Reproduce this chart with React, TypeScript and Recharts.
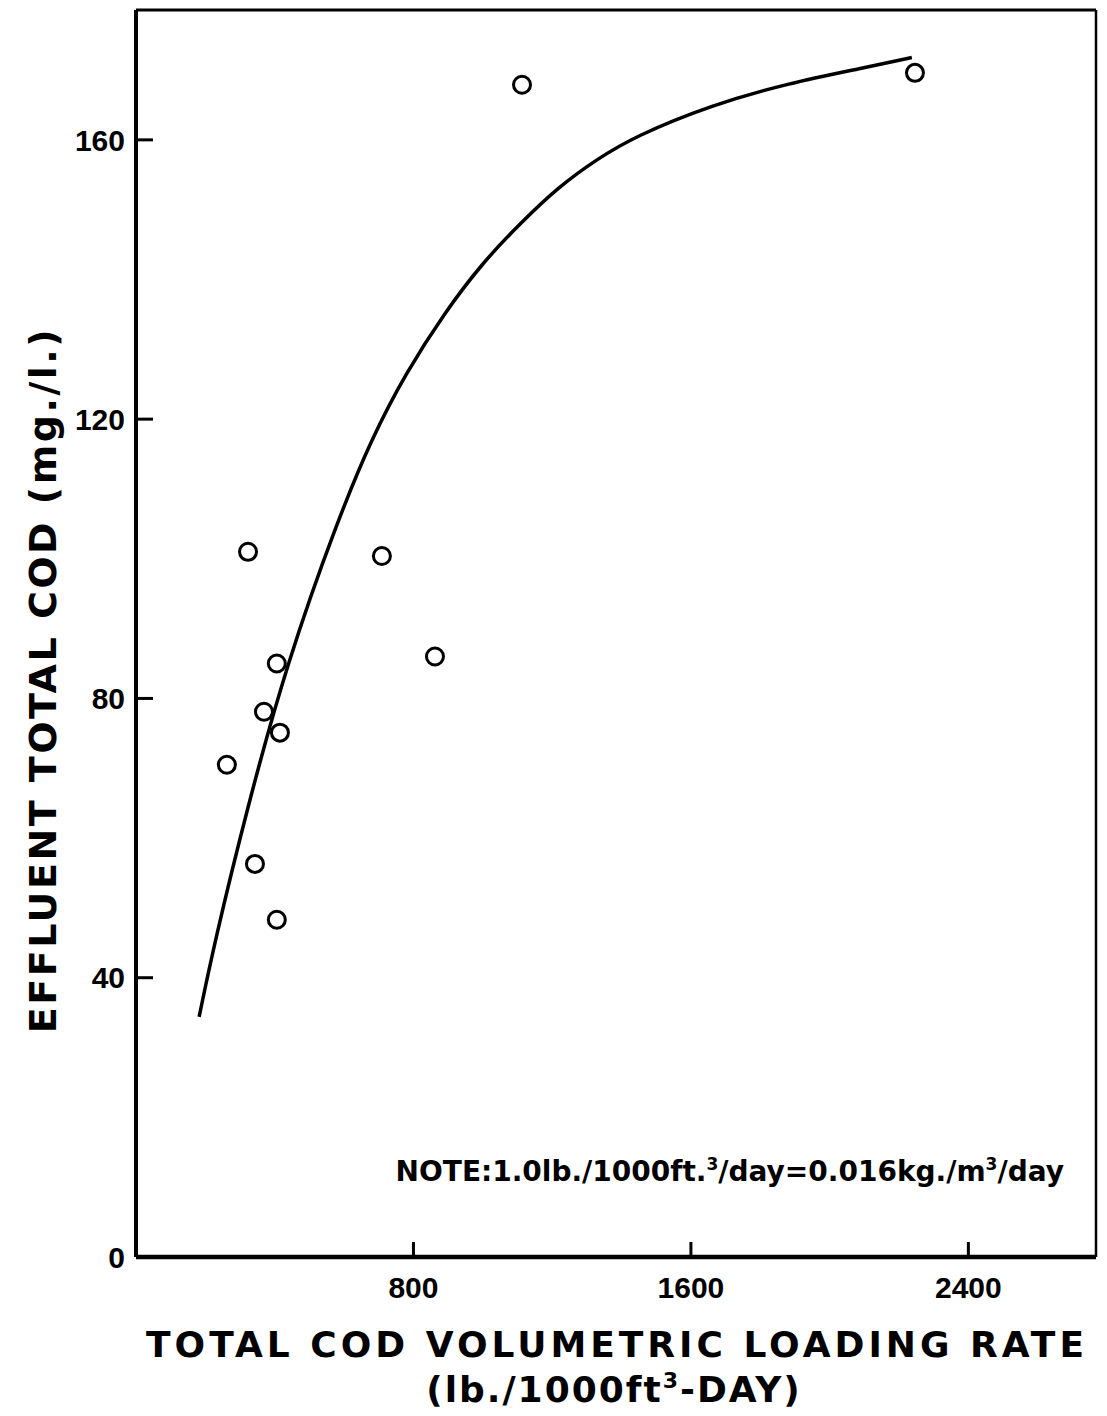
import { ComposedChart, Scatter, Line, XAxis, YAxis, ReferenceLine } from 'recharts';

// observed points: loading rate (lb./1000ft3-day) vs effluent total COD (mg./l.)
const loadingRate = [262, 323, 343, 369, 406, 406, 415, 709, 862, 1113, 2246];
const effluentCod = [70.5, 101.0, 56.3, 78.1, 85.0, 48.3, 75.1, 100.4, 86.0, 167.9, 169.6];

// fitted curve
const curveRate = [182, 228, 319, 435, 582, 680, 778, 889, 999, 1109, 1219, 1328, 1438, 1659, 1880, 2098, 2237];
const curveCod = [34.4, 45.4, 64.0, 85.1, 105.6, 117.3, 126.6, 135.2, 142.4, 148.1, 153.3, 157.2, 160.5, 165.0, 168.1, 170.3, 171.8];

const xTicks = [800, 1600, 2400];
const yTicks = [0, 40, 80, 120, 160];
const X_MAX = 2768;
const Y_MAX = 178.6;

const points = loadingRate.map((x, i) => ({ x, y: effluentCod[i] }));
const curve = curveRate.map((x, i) => ({ x, y: curveCod[i] }));

const FONT = '"DejaVu Sans", sans-serif';
const TICK_FONT = '"Liberation Sans", Arial, sans-serif';

const OpenCircle = (props: any) => {
  const { cx, cy } = props;
  return <circle cx={cx} cy={cy} r={8.5} fill="none" stroke="#000" strokeWidth={3} />;
};

const XTitle = (props: any) => {
  const { viewBox } = props;
  const cx = viewBox.x + viewBox.width / 2;
  return (
    <g fontFamily={FONT} fontWeight="bold" fill="#000">
      <text x={cx + 1} y={viewBox.y + 100} textAnchor="middle" fontSize={36} letterSpacing={4}>
        TOTAL COD VOLUMETRIC LOADING RATE
      </text>
      <text x={cx - 2} y={viewBox.y + 145} textAnchor="middle" fontSize={36} letterSpacing={2}>
        (lb./1000ft<tspan fontSize={22} dy={-14}>3</tspan><tspan dy={14}>-DAY)</tspan>
      </text>
    </g>
  );
};

const YTitle = () => (
  <text
    x={0}
    y={0}
    transform="translate(48, 672) rotate(-90)"
    textAnchor="middle"
    fontFamily={FONT}
    fontWeight="bold"
    fontSize={38}
    letterSpacing={2.5}
    fill="#000"
  >
    EFFLUENT TOTAL COD (mg./l.)
  </text>
);

export default function App() {
  return (
    <div style={{ width: 1090, height: 1408, background: '#fff', marginBottom: -8 }}>
      <ComposedChart
        width={1090}
        height={1408}
        margin={{ top: 2, right: 2, left: 0, bottom: 119 }}
      >
        <XAxis
          type="number"
          dataKey="x"
          domain={[0, X_MAX]}
          ticks={xTicks}
          allowDataOverflow
          height={40}
          axisLine={{ stroke: '#000', strokeWidth: 4.5 }}
          tickLine={{ stroke: '#000', strokeWidth: 3 }}
          tickSize={-15}
          tickMargin={35}
          tick={{ fill: '#000', fontSize: 30, fontWeight: 'bold', fontFamily: TICK_FONT }}
          label={<XTitle />}
        />
        <YAxis
          type="number"
          dataKey="y"
          domain={[0, Y_MAX]}
          ticks={yTicks}
          allowDataOverflow
          width={128}
          axisLine={{ stroke: '#000', strokeWidth: 4 }}
          tickLine={{ stroke: '#000', strokeWidth: 3 }}
          tickSize={-17}
          tickMargin={28}
          tick={{ fill: '#000', fontSize: 30, fontWeight: 'bold', fontFamily: TICK_FONT }}
          label={<YTitle />}
        />
        <ReferenceLine y={Y_MAX} stroke="#000" strokeWidth={3} />
        <ReferenceLine x={X_MAX} stroke="#000" strokeWidth={2.5} />
        <Line
          data={curve}
          dataKey="y"
          type="basis"
          stroke="#000"
          strokeWidth={3.5}
          dot={false}
          activeDot={false}
          isAnimationActive={false}
        />
        <Scatter data={points} dataKey="y" shape={<OpenCircle />} isAnimationActive={false} />
        <text x={1056} y={1173} textAnchor="end" fontFamily={FONT} fontWeight="bold" fontSize={28} fill="#000">
          NOTE:1.0lb./1000ft.<tspan fontSize={17} dy={-11}>3</tspan>
          <tspan dy={11}>/day=0.016kg./m</tspan>
          <tspan fontSize={17} dy={-11}>3</tspan>
          <tspan dy={11}>/day</tspan>
        </text>
      </ComposedChart>
    </div>
  );
}
